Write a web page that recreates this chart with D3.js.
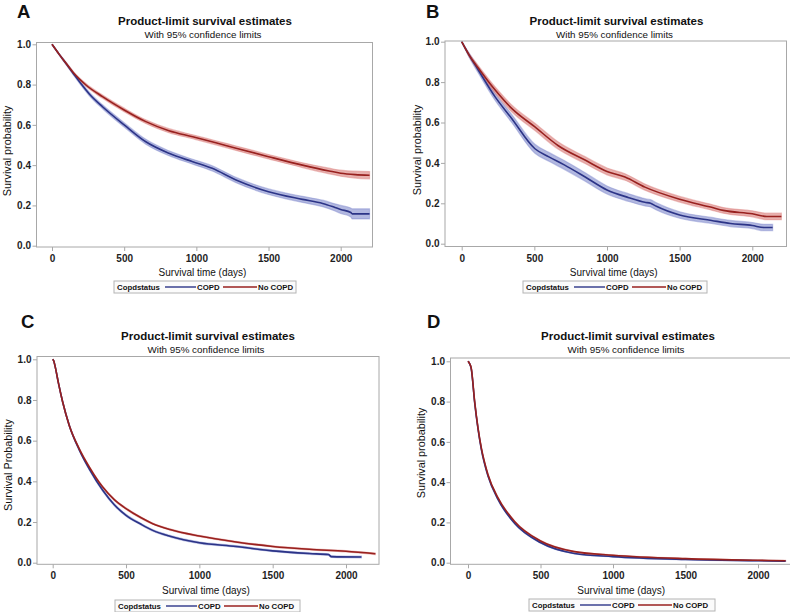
<!DOCTYPE html>
<html><head><meta charset="utf-8">
<script src="https://cdn.jsdelivr.net/npm/d3@7"></script>
<style>body{margin:0;background:#fff}svg{display:block}text{font-family:"Liberation Sans",Arial,sans-serif}</style>
</head><body><svg id="chart" width="790" height="612"></svg>
<script>
// ---------- text ----------
const panelLetters = ["A", "B", "C", "D"];
const titleText = "Product-limit survival estimates";
const subtitleText = "With 95% confidence limits";
const xTitleText = "Survival time (days)";
const yTitleTexts = ["Survival probability", "Survival probability", "Survival Probability", "Survival probability"];
const legendTitle = "Copdstatus";
const seriesNames = ["COPD", "No COPD"];
const xTicks = [0, 500, 1000, 1500, 2000];
const yTicks = [0, 0.2, 0.4, 0.6, 0.8, 1.0];

// ---------- panel A ----------
const tA_copd  = [0, 50, 100, 150, 200, 260, 350, 500, 650, 810, 975, 1110, 1275, 1500, 1735, 1875, 1960, 2000, 2070, 2080, 2200];
const sA_copd  = [1.0, 0.95, 0.902, 0.853, 0.805, 0.752, 0.69, 0.6, 0.516, 0.459, 0.417, 0.384, 0.326, 0.268, 0.23, 0.21, 0.19, 0.18, 0.165, 0.158, 0.158];
const ciA_copd = [0, 0.004, 0.006, 0.007, 0.008, 0.009, 0.01, 0.011, 0.012, 0.012, 0.012, 0.013, 0.013, 0.014, 0.015, 0.016, 0.018, 0.02, 0.022, 0.025, 0.025];
const tA_no    = [0, 50, 97, 150, 235, 350, 500, 650, 810, 975, 1135, 1275, 1500, 1735, 1920, 2000, 2100, 2200];
const sA_no    = [1.0, 0.95, 0.906, 0.857, 0.798, 0.74, 0.674, 0.616, 0.571, 0.541, 0.511, 0.484, 0.442, 0.40, 0.371, 0.36, 0.353, 0.35];
const ciA_no   = [0, 0.003, 0.005, 0.006, 0.007, 0.008, 0.009, 0.009, 0.01, 0.01, 0.01, 0.011, 0.011, 0.012, 0.014, 0.015, 0.017, 0.018];

// ---------- panel B ----------
const tB_copd  = [0, 50, 114, 229, 344, 504, 600, 706, 850, 1000, 1150, 1261, 1300, 1340, 1500, 1720, 1850, 2000, 2080, 2140];
const sB_copd  = [1.0, 0.935, 0.86, 0.728, 0.62, 0.47, 0.43, 0.39, 0.33, 0.266, 0.228, 0.205, 0.2, 0.185, 0.142, 0.115, 0.1, 0.09, 0.08, 0.08];
const ciB_copd = [0, 0.01, 0.015, 0.018, 0.02, 0.022, 0.022, 0.022, 0.021, 0.02, 0.019, 0.018, 0.018, 0.018, 0.016, 0.015, 0.015, 0.015, 0.016, 0.016];
const tB_no    = [0, 50, 114, 229, 344, 504, 665, 849, 1000, 1124, 1261, 1500, 1720, 1800, 2000, 2100, 2200];
const sB_no    = [1.0, 0.935, 0.87, 0.762, 0.67, 0.578, 0.485, 0.414, 0.358, 0.33, 0.28, 0.22, 0.18, 0.165, 0.148, 0.135, 0.135];
const ciB_no   = [0, 0.008, 0.012, 0.015, 0.017, 0.018, 0.018, 0.017, 0.017, 0.016, 0.015, 0.014, 0.014, 0.014, 0.015, 0.016, 0.016];

// ---------- panel C ----------
const tC_copd  = [0, 8, 15, 40, 68, 113, 181, 250, 341, 420, 500, 600, 682, 800, 1000, 1250, 1500, 1750, 1880, 1900, 2105];
const sC_copd  = [1.0, 0.99, 0.97, 0.88, 0.79, 0.675, 0.555, 0.46, 0.356, 0.285, 0.233, 0.19, 0.159, 0.13, 0.098, 0.08, 0.058, 0.045, 0.04, 0.03, 0.028];
const ciC_copd = [0, 0.002, 0.003, 0.004, 0.004, 0.005, 0.005, 0.005, 0.005, 0.005, 0.005, 0.004, 0.004, 0.004, 0.004, 0.004, 0.004, 0.004, 0.004, 0.004, 0.004];
const tC_no    = [0, 8, 15, 40, 68, 113, 181, 250, 341, 420, 500, 600, 682, 800, 1000, 1250, 1500, 1750, 2000, 2200];
const sC_no    = [1.0, 0.99, 0.97, 0.88, 0.79, 0.675, 0.56, 0.47, 0.372, 0.31, 0.266, 0.222, 0.192, 0.163, 0.131, 0.102, 0.08, 0.066, 0.056, 0.044];
const ciC_no   = [0, 0.002, 0.003, 0.003, 0.004, 0.004, 0.004, 0.004, 0.004, 0.004, 0.004, 0.004, 0.003, 0.003, 0.003, 0.003, 0.003, 0.003, 0.003, 0.004];

// ---------- panel D ----------
const tD       = [0, 10, 23, 46, 69, 92, 138, 207, 321, 500, 734, 1000, 1500, 2000, 2190];
const sD_copd  = [1.0, 0.99, 0.96, 0.795, 0.664, 0.563, 0.43, 0.314, 0.196, 0.1, 0.046, 0.03, 0.016, 0.01, 0.008];
const ciD_copd = [0, 0.002, 0.003, 0.003, 0.003, 0.003, 0.003, 0.003, 0.003, 0.003, 0.002, 0.002, 0.002, 0.002, 0.002];
const sD_no    = [1.0, 0.99, 0.964, 0.8, 0.67, 0.57, 0.437, 0.322, 0.205, 0.108, 0.055, 0.037, 0.02, 0.012, 0.01];
const ciD_no   = [0, 0.002, 0.003, 0.003, 0.003, 0.003, 0.003, 0.003, 0.003, 0.003, 0.002, 0.002, 0.002, 0.002, 0.002];

// ---------- layout & styles ----------
const colors = {
  copdLine: "#2c3487", copdBand: "#7f88cc",
  noLine: "#98211f", noBand: "#d97b78",
  frame: "#a8a8a8", text: "#1e1e1e"
};

const panels = [
  { letter: panelLetters[0], yTitle: yTitleTexts[0],
    series: [{t: tA_copd, s: sA_copd, ci: ciA_copd}, {t: tA_no, s: sA_no, ci: ciA_no}],
    frame: {l: 36.5, t: 42.5, r: 372.5, b: 247}, x0: 52, x2000: 340.7, y1: 44.3, y0: 245.7,
    letterPos: [17, 18], titleX: 205, titleY: 25, subY: 37.5, yTitleX: 10.5, yTitleY: 151,
    xTitleY: 276, legend: {x: 114, y: 281, w: 182, h: 12} },
  { letter: panelLetters[1], yTitle: yTitleTexts[1],
    series: [{t: tB_copd, s: sB_copd, ci: ciB_copd}, {t: tB_no, s: sB_no, ci: ciB_no}],
    frame: {l: 445, t: 41, r: 786.5, b: 246.5}, x0: 461.7, x2000: 752.3, y1: 41.7, y0: 243.7,
    letterPos: [426, 18], titleX: 616.5, titleY: 25, subY: 37.5, yTitleX: 421, yTitleY: 150,
    xTitleY: 276, legend: {x: 523, y: 281, w: 184, h: 12} },
  { letter: panelLetters[2], yTitle: yTitleTexts[2],
    series: [{t: tC_copd, s: sC_copd, ci: ciC_copd}, {t: tC_no, s: sC_no, ci: ciC_no}],
    frame: {l: 37, t: 356.5, r: 379, b: 564.3}, x0: 52.7, x2000: 346, y1: 359.3, y0: 562.7,
    letterPos: [21, 328], titleX: 208, titleY: 340, subY: 353, yTitleX: 11.5, yTitleY: 465,
    xTitleY: 594, legend: {x: 115, y: 600, w: 185, h: 12} },
  { letter: panelLetters[3], yTitle: yTitleTexts[3],
    series: [{t: tD, s: sD_copd, ci: ciD_copd}, {t: tD, s: sD_no, ci: ciD_no}],
    frame: {l: 450.5, t: 358, r: 796, b: 564.3}, x0: 468, x2000: 758, y1: 361.3, y0: 562.7,
    letterPos: [427, 328], titleX: 628, titleY: 340, subY: 353, yTitleX: 425, yTitleY: 453,
    xTitleY: 594, legend: {x: 529, y: 599, w: 186, h: 12} }
];

const svg = d3.select("#chart");
const seriesStyle = [
  {line: colors.copdLine, band: colors.copdBand},
  {line: colors.noLine, band: colors.noBand}
];

panels.forEach((p, pi) => {
  const g = svg.append("g");
  const x = d3.scaleLinear().domain([0, 2000]).range([p.x0, p.x2000]);
  const y = d3.scaleLinear().domain([0, 1]).range([p.y0, p.y1]);

  const clipId = "clip" + pi;
  svg.append("clipPath").attr("id", clipId).append("rect")
    .attr("x", p.frame.l).attr("y", p.frame.t)
    .attr("width", Math.min(790, p.frame.r) - p.frame.l).attr("height", p.frame.b - p.frame.t);

  const plot = g.append("g").attr("clip-path", `url(#${clipId})`);

  const rows = p.series.map(se => se.t.map((t, i) => ({t, v: se.s[i], h: se.ci[i]})));

  const area = d3.area().x(d => x(d.t))
    .y0(d => y(Math.max(0, d.v - d.h))).y1(d => y(Math.min(1, d.v + d.h)))
    .curve(d3.curveMonotoneX);
  const line = d3.line().x(d => x(d.t)).y(d => y(d.v)).curve(d3.curveMonotoneX);

  rows.forEach((r, i) => {
    plot.append("path").datum(r).attr("d", area)
      .attr("fill", seriesStyle[i].band).attr("fill-opacity", 0.6).attr("stroke", seriesStyle[i].band)
      .attr("stroke-opacity", 0.45).attr("stroke-width", 1.2);
  });
  rows.forEach((r, i) => {
    plot.append("path").datum(r).attr("d", line)
      .attr("fill", "none").attr("stroke", seriesStyle[i].line).attr("stroke-width", 1.6);
  });

  // frame
  g.append("rect").attr("x", p.frame.l).attr("y", p.frame.t)
    .attr("width", p.frame.r - p.frame.l).attr("height", p.frame.b - p.frame.t)
    .attr("fill", "none").attr("stroke", colors.frame).attr("stroke-width", 1);

  // axes
  const xa = g.append("g").attr("transform", `translate(0,${p.frame.b})`)
    .call(d3.axisBottom(x).tickValues(xTicks).tickFormat(d3.format("d")).tickSize(4).tickPadding(4).tickSizeOuter(0));
  const ya = g.append("g").attr("transform", `translate(${p.frame.l},0)`)
    .call(d3.axisLeft(y).tickValues(yTicks).tickFormat(d3.format(".1f")).tickSize(4).tickPadding(1.5).tickSizeOuter(0));
  [xa, ya].forEach(a => {
    a.select(".domain").remove();
    a.selectAll(".tick line").attr("stroke", colors.frame);
    a.selectAll(".tick text").attr("fill", colors.text).attr("font-size", 10)
      .attr("font-weight", "bold").attr("font-family", '"Liberation Sans", Arial, sans-serif');
  });

  // letter
  g.append("text").attr("x", p.letterPos[0]).attr("y", p.letterPos[1]).text(p.letter)
    .attr("font-size", 18.5).attr("font-weight", "bold").attr("fill", "#111");
  // titles
  g.append("text").attr("x", p.titleX).attr("y", p.titleY).attr("text-anchor", "middle")
    .attr("font-size", 11.5).attr("font-weight", "bold").attr("fill", "#111").text(titleText);
  g.append("text").attr("x", p.titleX - 2).attr("y", p.subY).attr("text-anchor", "middle")
    .attr("font-size", 9.8).attr("fill", "#111").text(subtitleText);
  // axis titles (centred on the plot frame)
  g.append("text").attr("x", (p.frame.l + p.frame.r) / 2 - 2).attr("y", p.xTitleY).attr("text-anchor", "middle")
    .attr("font-size", 10).attr("fill", "#111").text(xTitleText);
  g.append("text").attr("transform", `translate(${p.yTitleX},${p.yTitleY}) rotate(-90)`)
    .attr("text-anchor", "middle").attr("font-size", 10.8).attr("fill", "#111").text(p.yTitle);

  // legend
  const L = p.legend;
  const lg = g.append("g").attr("transform", `translate(${L.x},${L.y})`);
  lg.append("rect").attr("width", L.w).attr("height", L.h).attr("fill", "#fbfbfb")
    .attr("stroke", "#b4b4b4").attr("stroke-width", 1);
  lg.append("text").attr("x", 3).attr("y", 9).attr("font-size", 7.8).attr("font-weight", "bold")
    .attr("fill", "#111").text(legendTitle);
  const items = [{x1: 51, x2: 82, tx: 83}, {x1: 109, x2: 143, tx: 144}];
  items.forEach((it, i) => {
    lg.append("line").attr("x1", it.x1).attr("x2", it.x2).attr("y1", 6).attr("y2", 6)
      .attr("stroke", seriesStyle[i].line).attr("stroke-width", 1.4);
    lg.append("text").attr("x", it.tx).attr("y", 9).attr("font-size", 7.8).attr("font-weight", "bold")
      .attr("fill", "#111").text(seriesNames[i]);
  });
});
</script></body></html>
